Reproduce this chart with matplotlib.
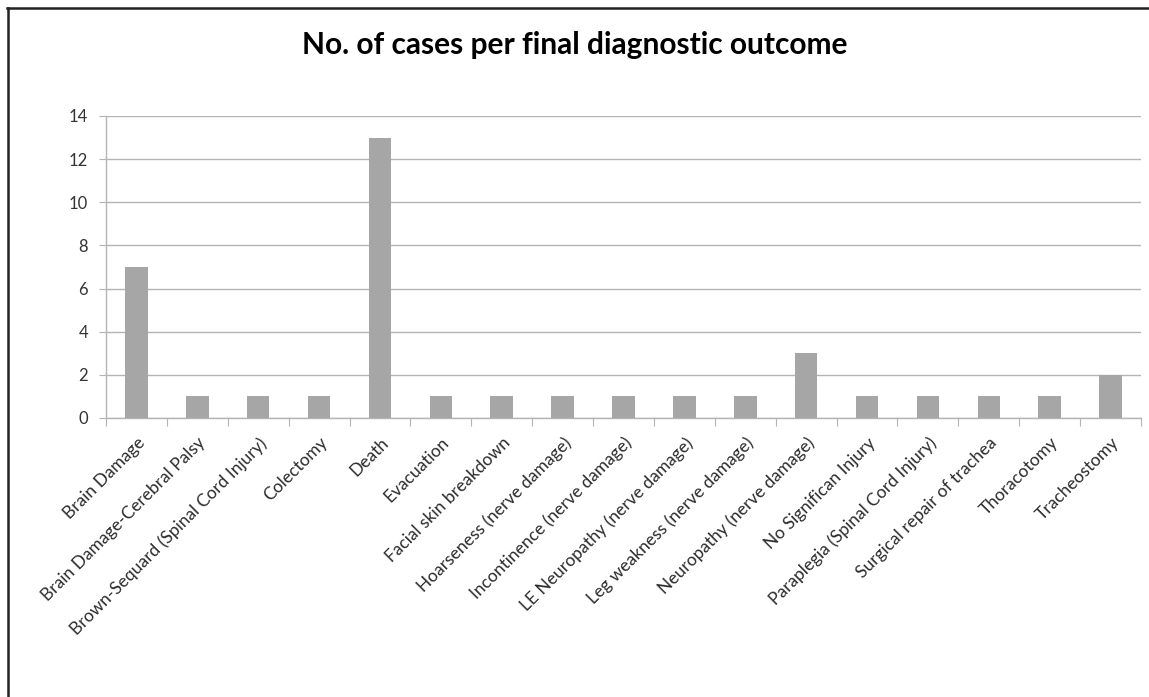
import matplotlib
matplotlib.use("Agg")
import matplotlib.pyplot as plt
from matplotlib.lines import Line2D
import numpy as np

categories = ["Brain Damage", "Brain Damage-Cerebral Palsy", "Brown-Sequard (Spinal Cord Injury)",
              "Colectomy", "Death", "Evacuation", "Facial skin breakdown",
              "Hoarseness (nerve damage)", "Incontinence (nerve damage)",
              "LE Neuropathy (nerve damage)", "Leg weakness (nerve damage)",
              "Neuropathy (nerve damage)", "No Significan Injury",
              "Paraplegia (Spinal Cord Injury)", "Surgical repair of trachea",
              "Thoracotomy", "Tracheostomy"]
values = [7, 1, 1, 1, 13, 1, 1, 1, 1, 1, 1, 3, 1, 1, 1, 1, 2]
yticks = [0, 2, 4, 6, 8, 10, 12, 14]

plt.rcParams['font.family'] = ['Lato', 'DejaVu Sans']

W, H = 1149, 697
fig = plt.figure(figsize=(W/100, H/100), dpi=100)
fig.patch.set_facecolor('white')

# border lines (top and left)
fig.add_artist(Line2D([7/W, 1.0], [1 - 8/H, 1 - 8/H], transform=fig.transFigure, color='#222222', lw=1.8))
fig.add_artist(Line2D([8/W, 8/W], [0, 1 - 8/H], transform=fig.transFigure, color='#222222', lw=1.8))

left, right, top, bottom = 106, 1141, 116, 418
ax = fig.add_axes([left/W, 1 - bottom/H, (right-left)/W, (bottom-top)/H])

x = np.arange(len(categories))
ax.bar(x, values, width=0.37, color='#a6a6a6', zorder=3)
ax.set_xlim(-0.5, len(categories) - 0.5)
ax.set_ylim(0, 14)
ax.set_yticks(yticks)
ax.set_yticklabels([str(v) for v in yticks], fontsize=12, color='#333333')
ax.yaxis.grid(True, color='#b4b4b4', lw=1, zorder=0)
ax.set_axisbelow(True)

for s in ['top', 'right']:
    ax.spines[s].set_visible(False)
for s in ['left', 'bottom']:
    ax.spines[s].set_color('#b4b4b4')
    ax.spines[s].set_linewidth(1)

ax.tick_params(axis='y', length=5, color='#b4b4b4', pad=8)
ax.set_xticks(np.arange(len(categories) + 1) - 0.5, minor=False)
ax.set_xticklabels([])
ax.tick_params(axis='x', which='major', length=6, color='#b4b4b4')
ax.set_xticks(x, minor=True)
ax.set_xticklabels(categories, minor=True, rotation=45, ha='right', va='top',
                   rotation_mode='anchor', fontsize=12.5, color='#2b2b2b')
ax.tick_params(axis='x', which='minor', length=0, pad=12)

fig.text(0.5 + 0.0, 1 - 45/H, "No. of cases per final diagnostic outcome",
         ha='center', va='center', fontsize=21.5, fontweight='bold', color='black')

fig.savefig("out.png", dpi=100)
